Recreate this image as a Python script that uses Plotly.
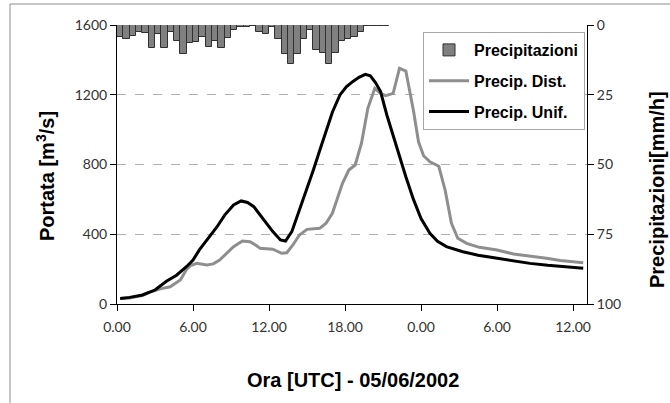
import plotly.graph_objects as go

# Precipitation (mm/h), half-hourly bars starting at 0.00
rain_t = [0.25 + 0.5 * i for i in range(43)]
rain_v = [4.2, 5.0, 3.8, 2.4, 2.7, 8.4, 3.3, 8.4, 2.4, 5.6,
          10.5, 6.6, 6.0, 4.2, 8.0, 5.6, 8.4, 4.8, 1.8, 0.6,
          0.6, 0.4, 2.4, 3.2, 0.6, 5.1, 10.5, 14.1, 10.5, 5.1,
          1.8, 9.0, 10.2, 14.1, 10.2, 5.6, 5.0, 4.4, 2.4, 0.3,
          0.3, 0.3, 0.3]

# Discharge, uniform precipitation (black)
unif_t = [0.25, 1.0, 2.0, 3.0, 3.9, 4.7, 5.5, 6.0, 6.5, 7.3, 7.9, 8.5, 9.2, 9.8,
          10.3, 10.8, 11.3, 11.8, 12.3, 12.9, 13.3, 13.8, 14.4, 15.0, 15.5, 16.0,
          16.5, 17.0, 17.6, 18.1, 18.6, 19.1, 19.6, 20.0, 20.4, 20.8, 21.3, 21.8,
          22.3, 22.8, 23.4, 24.0, 24.7, 25.3, 26.0, 27.3, 28.5, 30.0, 31.5, 32.6,
          34.0, 35.2, 36.0, 36.8]
unif_v = [32, 38, 52, 80, 130, 165, 215, 252, 310, 386, 443, 510, 568, 591,
          582, 558, 512, 463, 415, 367, 361, 415, 539, 660, 768, 880,
          990, 1100, 1199, 1245, 1275, 1300, 1317, 1309, 1270, 1220, 1084, 965,
          850, 730, 600, 490, 405, 360, 329, 300, 280, 262, 245, 233,
          222, 214, 208, 205]

# Discharge, distributed precipitation (grey)
dist_t = [0.25, 1.0, 2.0, 2.6, 3.5, 4.2, 5.0, 5.5, 5.8, 6.3, 7.1, 7.6, 8.1, 8.7,
          9.2, 9.9, 10.5, 11.0, 11.3, 12.3, 13.0, 13.4, 13.9, 14.4, 15.0, 16.0,
          16.5, 17.0, 17.4, 17.8, 18.3, 18.8, 19.3, 19.8, 20.35, 20.8, 21.2, 21.8,
          22.3, 22.8, 23.4, 23.8, 24.2, 24.7, 25.4, 25.9, 26.4, 26.9, 27.6, 28.6,
          30.0, 31.3, 33.9, 35.0, 36.8]
dist_v = [32, 35, 48, 68, 88, 99, 138, 200, 220, 233, 224, 230, 252, 295,
          329, 361, 357, 335, 319, 314, 291, 294, 340, 396, 428, 434,
          463, 520, 600, 692, 768, 797, 922, 1122, 1237, 1208, 1195, 1208,
          1352, 1336, 1110, 930, 850, 815, 790, 654, 463, 377, 348, 325,
          310, 287, 262, 250, 236]

x_tickvals = [0, 6, 12, 18, 24, 30, 36]
x_ticktext = ["0.00", "6.00", "12.00", "18.00", "0.00", "6.00", "12.00"]
y_tickvals = [0, 400, 800, 1200, 1600]
y2_tickvals = [0, 25, 50, 75, 100]

tick_font = dict(family="Lato, Open Sans, sans-serif", size=14, color="#333333")
bold_font = "Liberation Sans, Arial, sans-serif"

fig = go.Figure()
fig.add_trace(go.Bar(
    x=rain_t, y=rain_v, width=0.5, yaxis="y2", name="Precipitazioni",
    marker=dict(color="#808080", line=dict(color="#303030", width=1)),
    legendgroup="a"))
fig.add_trace(go.Scatter(
    x=dist_t, y=dist_v, mode="lines", name="Precip. Dist.",
    line=dict(color="#8e8e8e", width=3), legendgroup="b"))
fig.add_trace(go.Scatter(
    x=unif_t, y=unif_v, mode="lines", name="Precip. Unif.",
    line=dict(color="#000000", width=3), legendgroup="c"))

W, H = 670, 403
L, R, T, B = 117, 83, 25, 99
pw, ph = W - L - R, H - T - B

def px(x):
    return (x - L) / pw

def py(y):
    return (H - B - y) / ph

fig.update_layout(
    width=W, height=H,
    margin=dict(l=L, r=R, t=T, b=B),
    paper_bgcolor="white", plot_bgcolor="white",
    bargap=0,
    showlegend=True,
    legend=dict(
        x=px(423), y=py(32), xanchor="left", yanchor="top",
        bgcolor="white", bordercolor="#a6a6a6", borderwidth=1,
        font=dict(family=bold_font, size=16, color="#000000", weight="bold"),
        tracegroupgap=7, itemwidth=40, traceorder="grouped"),
    xaxis=dict(
        range=[0, 37.1], tickvals=x_tickvals, ticktext=x_ticktext,
        showline=True, linecolor="#000000", linewidth=1,
        ticks="outside", ticklen=6, tickcolor="#000000", ticklabelstandoff=4,
        showgrid=False, zeroline=False, tickfont=tick_font),
    yaxis=dict(
        range=[0, 1600], tickvals=y_tickvals,
        showline=True, linecolor="#000000", linewidth=1,
        ticks="outside", ticklen=6, tickcolor="#000000",
        showgrid=True, gridcolor="#b0b0b0", griddash="dash", gridwidth=1,
        zeroline=False, tickfont=tick_font),
    yaxis2=dict(
        range=[100, 0], tickvals=y2_tickvals, overlaying="y", side="right",
        showline=True, linecolor="#000000", linewidth=1,
        ticks="outside", ticklen=6, tickcolor="#000000",
        showgrid=False, zeroline=False, tickfont=tick_font),
    shapes=[dict(type="rect", xref="paper", yref="paper",
                 x0=px(10), x1=px(700), y0=py(420), y1=py(4),
                 line=dict(color="#8c8c8c", width=1), layer="below")],
    annotations=[
        dict(text="Ora [UTC] - 05/06/2002", xref="paper", yref="paper",
             x=px(353), y=py(380), showarrow=False, xanchor="center", yanchor="middle",
             font=dict(family=bold_font, size=20, color="#000000", weight="bold")),
        dict(text="Portata [m<sup>3</sup>/s]", xref="paper", yref="paper",
             x=px(45), y=py(176), showarrow=False, textangle=-90,
             xanchor="center", yanchor="middle",
             font=dict(family=bold_font, size=20, color="#000000", weight="bold")),
        dict(text="Precipitazioni[mm/h]", xref="paper", yref="paper",
             x=px(657), y=py(190), showarrow=False, textangle=-90,
             xanchor="center", yanchor="middle",
             font=dict(family=bold_font, size=20, color="#000000", weight="bold")),
    ],
)

fig.write_html("out.html")
